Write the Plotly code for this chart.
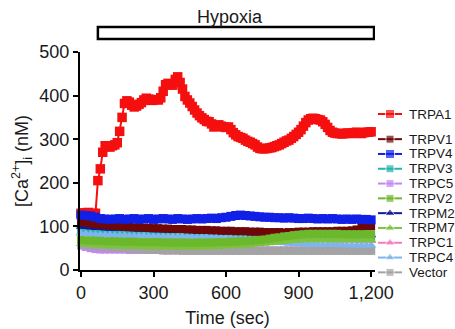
import plotly.graph_objects as go

# ---------------- data ----------------
time_fast = list(range(0, 1201, 10))   # TRPA1 sampling (sec)
time_slow = list(range(0, 1201, 20))   # other constructs (sec)

trpa1 = [130, 131, 130, 132, 129, 130, 130, 205, 232, 270,
         285, 283, 282, 285, 287, 292, 318, 350, 382, 388,
         385, 378, 374, 376, 380, 384, 390, 394, 392, 389,
         390, 391, 390, 395, 410, 425, 428, 425, 424, 437,
         443, 430, 415, 398, 390, 383, 375, 367, 360, 354,
         349, 345, 341, 340, 335, 328, 330, 333, 330, 328,
         327, 328, 322, 315, 310, 306, 304, 302, 298, 295,
         293, 290, 287, 282, 279, 278, 278, 279, 280, 281,
         283, 285, 287, 290, 293, 296, 298, 302, 306, 311,
         316, 322, 330, 338, 344, 347, 348, 347, 345, 344,
         340, 334, 327, 320, 316, 314, 313, 313, 312, 313,
         314, 314, 313, 315, 316, 314, 313, 315, 316, 316,
         317]

trpv4 = [126, 125, 124, 121, 118, 117, 116, 117, 118, 116, 117,
         118, 116, 117, 118, 116, 117, 118, 117, 116, 118,
         117, 116, 117, 118, 117, 118, 119, 118, 120, 121,
         123, 125, 126, 125, 124, 123, 122, 121, 121, 120,
         120, 119, 120, 119, 118, 118, 119, 118, 117, 118,
         117, 118, 117, 116, 117, 116, 117, 116, 116, 115]

trpv1 = [110, 109, 107, 105, 104, 103, 102, 101, 100, 99, 99,
         98, 98, 97, 97, 96, 96, 95, 95, 94, 94,
         94, 93, 93, 92, 92, 92, 91, 91, 90, 90,
         90, 89, 89, 89, 88, 88, 88, 87, 87, 87,
         87, 86, 87, 87, 88, 88, 88, 89, 89, 89,
         89, 89, 90, 90, 90, 91, 93, 98, 100, 100]

trpv3 = [92, 90, 89, 88, 88, 87, 87, 86, 86, 86, 85,
         85, 85, 86, 88, 90, 90, 89, 88, 86, 85,
         84, 84, 83, 83, 83, 82, 82, 82, 81, 81,
         81, 80, 80, 80, 79, 79, 79, 78, 78, 78,
         78, 77, 77, 77, 77, 76, 76, 76, 76, 75,
         75, 75, 75, 75, 74, 74, 74, 74, 74, 74]

trpc5 = [56, 53, 50, 48, 47, 47, 47, 47, 47, 47, 46,
         46, 46, 46, 46, 46, 46, 45, 45, 45, 45,
         45, 45, 45, 45, 45, 45, 45, 45, 45, 45,
         45, 45, 45, 45, 45, 45, 45, 45, 45, 45,
         45, 45, 45, 45, 45, 45, 45, 45, 45, 45,
         45, 45, 45, 45, 45, 45, 45, 45, 45, 45]

trpv2 = [69, 68, 68, 67, 67, 66, 66, 66, 65, 65, 65,
         65, 64, 64, 64, 64, 64, 63, 63, 63, 63,
         63, 63, 62, 63, 63, 63, 63, 64, 64, 64,
         65, 65, 66, 66, 67, 68, 69, 70, 72, 74,
         75, 77, 78, 80, 81, 82, 83, 83, 83, 83,
         83, 83, 83, 82, 82, 82, 82, 82, 82, 82]

trpm2 = [100, 99, 98, 97, 97, 96, 95, 95, 96, 95, 94,
         94, 93, 94, 93, 92, 92, 92, 91, 91, 90,
         90, 91, 90, 89, 89, 89, 88, 88, 88, 87,
         87, 87, 86, 86, 86, 85, 85, 85, 84, 84,
         84, 84, 83, 83, 83, 83, 82, 82, 82, 82,
         82, 81, 81, 81, 81, 81, 81, 80, 80, 80]

trpm7 = [60, 59, 58, 57, 56, 56, 55, 55, 55, 54, 54,
         54, 54, 53, 53, 53, 53, 53, 53, 52, 52,
         52, 52, 52, 52, 53, 53, 53, 54, 54, 55,
         55, 56, 56, 57, 58, 59, 60, 61, 62, 63,
         64, 65, 66, 67, 68, 68, 69, 69, 69, 69,
         69, 69, 69, 69, 69, 69, 69, 69, 69, 69]

trpc1 = [86, 85, 84, 84, 83, 83, 82, 82, 81, 81, 81,
         80, 80, 80, 80, 79, 79, 79, 79, 78, 78,
         78, 78, 77, 77, 77, 77, 77, 76, 76, 76,
         76, 75, 75, 75, 75, 74, 74, 74, 73, 73,
         72, 72, 71, 71, 70, 70, 70, 69, 69, 69,
         69, 68, 68, 68, 68, 68, 68, 67, 67, 67]

trpc4 = [84, 83, 82, 81, 81, 80, 80, 79, 79, 79, 78,
         78, 78, 78, 77, 77, 77, 77, 76, 76, 76,
         76, 76, 75, 75, 75, 75, 75, 74, 74, 74,
         73, 73, 72, 71, 70, 69, 68, 67, 66, 64,
         63, 62, 61, 60, 60, 59, 59, 59, 58, 58,
         58, 58, 58, 58, 57, 57, 57, 57, 57, 57]

vector = [58, 57, 56, 55, 54, 53, 52, 51, 50, 50, 49,
          48, 48, 47, 47, 46, 46, 45, 45, 45, 45,
          44, 44, 44, 44, 44, 44, 44, 44, 44, 44,
          44, 44, 44, 44, 44, 44, 44, 44, 44, 44,
          44, 44, 44, 44, 44, 44, 44, 44, 44, 44,
          44, 44, 44, 44, 44, 44, 44, 44, 44, 44]

legend_order = ["TRPA1", "TRPV1", "TRPV4", "TRPV3", "TRPC5", "TRPV2",
                "TRPM2", "TRPM7", "TRPC1", "TRPC4", "Vector"]
x_tick_vals = [0, 300, 600, 900, 1200]
y_tick_vals = [0, 100, 200, 300, 400, 500]
stimulus_label = "Hypoxia"
stimulus_start, stimulus_end = 70, 1212

# ---------------- styling ----------------
series = {
    "TRPA1": (time_fast, trpa1), "TRPV1": (time_slow, trpv1),
    "TRPV4": (time_slow, trpv4), "TRPV3": (time_slow, trpv3),
    "TRPC5": (time_slow, trpc5), "TRPV2": (time_slow, trpv2),
    "TRPM2": (time_slow, trpm2), "TRPM7": (time_slow, trpm7),
    "TRPC1": (time_slow, trpc1), "TRPC4": (time_slow, trpc4),
    "Vector": (time_slow, vector),
}
colors = {
    "TRPA1": "#f50f0f", "TRPV1": "#6e0808", "TRPV4": "#1020e6",
    "TRPV3": "#26b3ad", "TRPC5": "#c585f5", "TRPV2": "#6cb82c",
    "TRPM2": "#15169a", "TRPM7": "#7dc23e", "TRPC1": "#f27cbd",
    "TRPC4": "#7eb4f0", "Vector": "#a3a3a3",
}
symbols = {n: ("triangle-up" if n in ("TRPM2", "TRPM7", "TRPC1", "TRPC4") else "square")
           for n in legend_order}
marker_size = {n: (9 if symbols[n] == "triangle-up" else 8) for n in legend_order}
marker_size["TRPA1"] = 9.5
marker_size["TRPV4"] = 9
# back-to-front drawing order as seen in the picture
draw_order = ["TRPA1", "TRPC5", "Vector", "TRPC1", "TRPV3", "TRPC4",
              "TRPM2", "TRPV1", "TRPV4", "TRPM7", "TRPV2"]

FONT = "Liberation Sans, Arial, sans-serif"
TXT = "#1a1a1a"

fig = go.Figure()
for name in draw_order:
    xs, ys = series[name]
    fig.add_trace(go.Scatter(
        x=xs, y=ys, name=name, mode="lines+markers",
        line=dict(color=colors[name], width=2),
        marker=dict(symbol=symbols[name], size=marker_size[name], color=colors[name]),
        showlegend=False, cliponaxis=False,
    ))

# compact legend drawn in its own small axis to the right of the plot
legend_rows = [i + (0.7 if i else 0) for i in range(len(legend_order))]
sample_x = [0.0375, 0.1875, 0.3375]
for name, row in zip(legend_order, legend_rows):
    fig.add_trace(go.Scatter(
        x=sample_x, y=[row] * 3, mode="lines+markers", xaxis="x2", yaxis="y2",
        line=dict(color=colors[name], width=2),
        marker=dict(symbol=symbols[name], size=[0, min(marker_size[name], 9), 0],
                    color=colors[name]),
        showlegend=False, hoverinfo="skip", cliponaxis=False,
    ))
    fig.add_annotation(x=0.4, y=row, xref="x2", yref="y2", text=name,
                       showarrow=False, xanchor="left", yanchor="middle",
                       font=dict(family=FONT, size=13.5, color=TXT))

axis_common = dict(showline=True, linecolor="black", linewidth=2, ticks="outside",
                   ticklen=5, tickwidth=2, tickcolor="black", showgrid=False,
                   zeroline=False, automargin=False,
                   tickfont=dict(family=FONT, size=18, color=TXT))

fig.update_layout(
    template="none",
    width=455, height=329,
    margin=dict(l=80, r=0, t=52, b=40, autoexpand=False),
    paper_bgcolor="white", plot_bgcolor="white",
    showlegend=False,
    font=dict(family=FONT, color=TXT),
    xaxis=dict(domain=[0, 295 / 375], range=[-4, 1216], tickvals=x_tick_vals,
               tickformat=",d", anchor="y",
               title=dict(text="Time (sec)", font=dict(family=FONT, size=18, color=TXT),
                          standoff=10),
               **axis_common),
    yaxis=dict(domain=[19 / 237, 1], range=[0, 500], tickvals=y_tick_vals, anchor="x",
               title=dict(text="[Ca<sup>2+</sup>]<sub>i</sub> (nM)",
                          font=dict(family=FONT, size=18, color=TXT), standoff=6),
               **axis_common),
    xaxis2=dict(domain=[295 / 375, 1], range=[0, 1], visible=False, anchor="y2",
                fixedrange=True),
    yaxis2=dict(domain=[0, 1], range=[(289 - 114) / 14.8, (52 - 114) / 14.8],
                visible=False, anchor="x2", fixedrange=True),
)

# hypoxia bar above the plot
fig.add_shape(type="rect", xref="x", yref="paper", x0=stimulus_start, x1=stimulus_end,
              y0=(289 - 39) / 237, y1=(289 - 27) / 237,
              line=dict(color="black", width=2.5), fillcolor="white")
fig.add_annotation(x=(stimulus_start + stimulus_end) / 2 - 26, y=(289 - 17) / 237,
                   xref="x", yref="paper", text=stimulus_label, showarrow=False,
                   yanchor="middle", font=dict(family=FONT, size=18, color=TXT))

# place the figure at the page's top-left corner (no default body margin)
fig.write_html("out.html",
               config={"displayModeBar": False},
               post_script="document.body.style.margin='0';"
                           "document.body.style.overflow='hidden';")
